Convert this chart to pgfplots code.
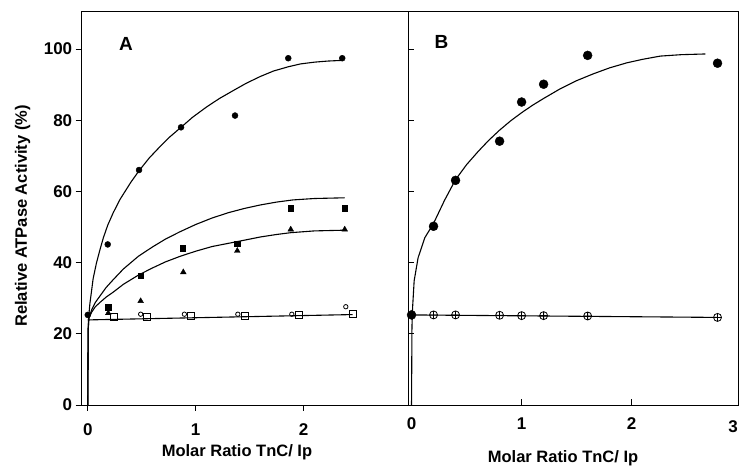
\documentclass[border=0pt]{standalone}
\usepackage{fontspec}
\setmainfont{Liberation Sans}
\usepackage{pgfplots}
\pgfplotsset{compat=1.18}

\pgfplotsset{
  panel/.style={
    scale only axis,
    anchor=south west,
    height=393.4pt,
    ymin=0, ymax=110.5,
    axis line style={line width=0.9pt},
    tick style={line width=0.9pt, black},
    major tick length=6pt,
    xtick pos=bottom,
    ytick pos=left,
    ytick={0,20,40,60,80,100},
    xtick={0,1,2,3},
    ticklabel style={font=\bfseries\fontsize{17}{17}\selectfont},
    xticklabel style={yshift=-9pt},
    /pgf/number format/assume math mode=true,
    clip=false,
  },
  fit/.style={black, line width=1.1pt, no markers},
}

\begin{document}
\begin{tikzpicture}
% panel A
\begin{axis}[panel,
  at={(81.7pt,63pt)}, width=326.3pt,
  xmin=-0.056, xmax=2.966,
  tick align=outside,
]
% fitted curves
\addplot[fit] coordinates {
  (0,0)(0.004,21)(0.008,24.5)(0.02,28.5)(0.05,35.5)(0.08,39.8)(0.113,43.6)(0.145,47)
  (0.185,50.5)(0.236,54)(0.3,57.8)(0.4,62.6)(0.475,65.8)(0.57,69.4)(0.67,72.6)
  (0.76,75.3)(0.864,78)(0.97,80.8)(1.1,83.7)(1.22,86.1)(1.364,88.6)(1.47,90.4)
  (1.6,92.3)(1.72,93.8)(1.857,95)(1.97,95.8)(2.1,96.3)(2.22,96.6)(2.357,96.8)};
\addplot[fit] coordinates {
  (0,0)(0.004,21)(0.01,24.3)(0.036,26.7)(0.07,28.8)(0.113,30.6)(0.17,33)
  (0.236,35.2)(0.33,38.2)(0.47,41.8)(0.6,44.4)(0.72,46.6)(0.85,48.6)(1.0,50.7)
  (1.15,52.5)(1.3,54)(1.45,55.2)(1.6,56.2)(1.75,57)(1.9,57.6)(2.1,58)(2.38,58.2)};
\addplot[fit] coordinates {
  (0,0)(0.004,21)(0.01,24.3)(0.035,26)(0.07,27.6)(0.113,28.8)(0.17,30.3)
  (0.236,31.7)(0.33,33.9)(0.47,36.5)(0.6,38.5)(0.72,40.2)(0.85,41.7)(1.0,43.2)
  (1.15,44.5)(1.385,45.9)(1.6,47.2)(1.75,47.9)(1.88,48.4)(2.1,48.9)(2.38,49.1)};
\addplot[fit] coordinates {(0,23.9)(2.454,25.4)};
% data
\addplot[only marks, mark=*, mark size=3pt, black] coordinates {
  (0,25.3)(0.185,45.1)(0.475,66)(0.864,78)(1.364,81.3)(1.857,97.4)(2.357,97.4)};
\addplot[only marks, mark=square*, mark size=2.8pt, black] coordinates {
  (0.19,27.4)(0.49,36.3)(0.88,44.1)(1.385,45.3)(1.88,55.2)(2.38,55.2)};
\addplot[only marks, mark=triangle*, mark size=3.3pt, black] coordinates {
  (0.19,25.8)(0.49,29.2)(0.885,37.3)(1.385,43.3)(1.88,49.3)(2.38,49.3)};
\addplot[only marks, mark=o, mark size=2.2pt, black, mark options={fill=white, line width=0.8pt}] coordinates {
  (0.49,25.5)(0.895,25.5)(1.39,25.5)(1.89,25.5)(2.39,27.6)};
\addplot[only marks, mark=square, mark size=3.4pt, black, mark options={fill=white, line width=0.9pt}] coordinates {
  (0.246,24.8)(0.552,24.8)(0.954,25)(1.456,25)(1.956,25.2)(2.454,25.5)};
\node[font=\bfseries\fontsize{19}{19}\selectfont] at (axis cs:0.355,101.3) {A};
\end{axis}

% panel B
\begin{axis}[panel,
  at={(408pt,63pt)}, width=330pt,
  xmin=-0.032, xmax=2.966,
  tick align=inside,
  yticklabels={},
  xtick={0,1,2},
]
\addplot[fit] coordinates {
  (0,0)(0.004,22)(0.01,27.5)(0.024,34.9)(0.06,41.4)(0.121,47)(0.2,51)(0.3,57.5)
  (0.4,63.3)(0.5,67.5)(0.605,71.2)(0.7,74.3)(0.8,77.2)(0.9,79.8)(1.0,82.1)
  (1.1,84.2)(1.2,86.1)(1.35,88.8)(1.5,91.1)(1.65,93.0)(1.8,94.7)(1.955,96.1)
  (2.1,97.1)(2.26,98.0)(2.45,98.4)(2.67,98.6)};
\addplot[fit] coordinates {(0,25.3)(2.78,24.6)};
\addplot[only marks, mark=oplus, mark size=4pt, black, mark options={fill=white, line width=0.8pt}] coordinates {
  (0.2,25.3)(0.4,25.3)(0.8,25.2)(1.0,25.1)(1.2,25.1)(1.6,25.0)(2.78,24.6)};
\addplot[only marks, mark=*, mark size=4.5pt, black] coordinates {
  (0,25.3)(0.2,50.2)(0.4,63.1)(0.8,74.1)(1.0,85.1)(1.2,90.1)(1.6,98.2)(2.78,96.0)};
\node[font=\bfseries\fontsize{19}{19}\selectfont] at (axis cs:0.273,102) {B};
\node[font=\bfseries\fontsize{17}{17}\selectfont, anchor=north east, inner sep=0pt] at (axis cs:2.966,-4.3) {3};
\end{axis}

% axis labels
\node[font=\bfseries\fontsize{16.5}{16.5}\selectfont] at (237pt,16pt) {Molar Ratio TnC/ Ip};
\node[font=\bfseries\fontsize{16.5}{16.5}\selectfont] at (563pt,10pt) {Molar Ratio TnC/ Ip};
\node[font=\bfseries\fontsize{16.5}{16.5}\selectfont, rotate=90] at (22.5pt,252pt) {Relative ATPase Activity (\%)};

\pgfresetboundingbox
\useasboundingbox (0,0) rectangle (740pt,468pt);
\end{tikzpicture}
\end{document}
